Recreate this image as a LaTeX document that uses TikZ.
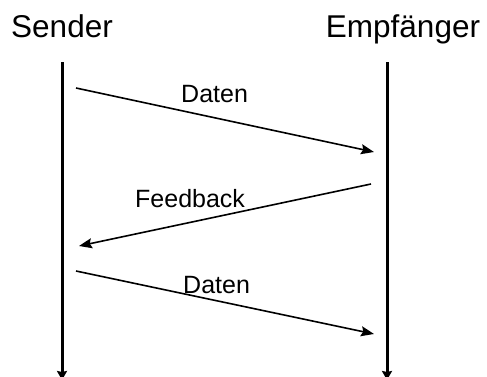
\documentclass[tikz,border=0pt]{standalone}
\usepackage{fontspec}
\setmainfont{Liberation Sans}
\usetikzlibrary{arrows.meta}
\begin{document}
\begin{tikzpicture}[x=1pt,y=1pt,
  party/.style={anchor=base, inner sep=0pt, font=\fontsize{31.5}{34}\selectfont},
  msglabel/.style={anchor=base west, inner sep=0pt, font=\fontsize{25}{28}\selectfont},
  lifeline/.style={line width=3pt, -{Stealth[length=9pt,width=10pt,inset=1pt]}},
  msg/.style={line width=1.6pt, -{Stealth[length=13pt,width=10pt,inset=2pt]}}]
\useasboundingbox (0,0) rectangle (487,376);
\node[party] (sender) at (62,339) {Sender};
\node[party] (empf) at (403,339) {Empfänger};
\coordinate (s0) at (62,314);
\coordinate (s1) at (62,-4);
\coordinate (e0) at (387,314);
\coordinate (e1) at (387,-4);
\draw[lifeline] (s0) -- (s1);
\draw[lifeline] (e0) -- (e1);
\coordinate (a1) at (76,288);
\coordinate (b1) at (374,224);
\coordinate (a2) at (371,192);
\coordinate (b2) at (79,130);
\coordinate (a3) at (76,105);
\coordinate (b3) at (374,42);
\draw[msg] (a1) -- (b1);
\draw[msg] (a2) -- (b2);
\draw[msg] (a3) -- (b3);
\node[msglabel] (l1) at (181,274) {Daten};
\node[msglabel] (l2) at (135,169) {Feedback};
\node[msglabel] (l3) at (183,83) {Daten};
\end{tikzpicture}
\end{document}
